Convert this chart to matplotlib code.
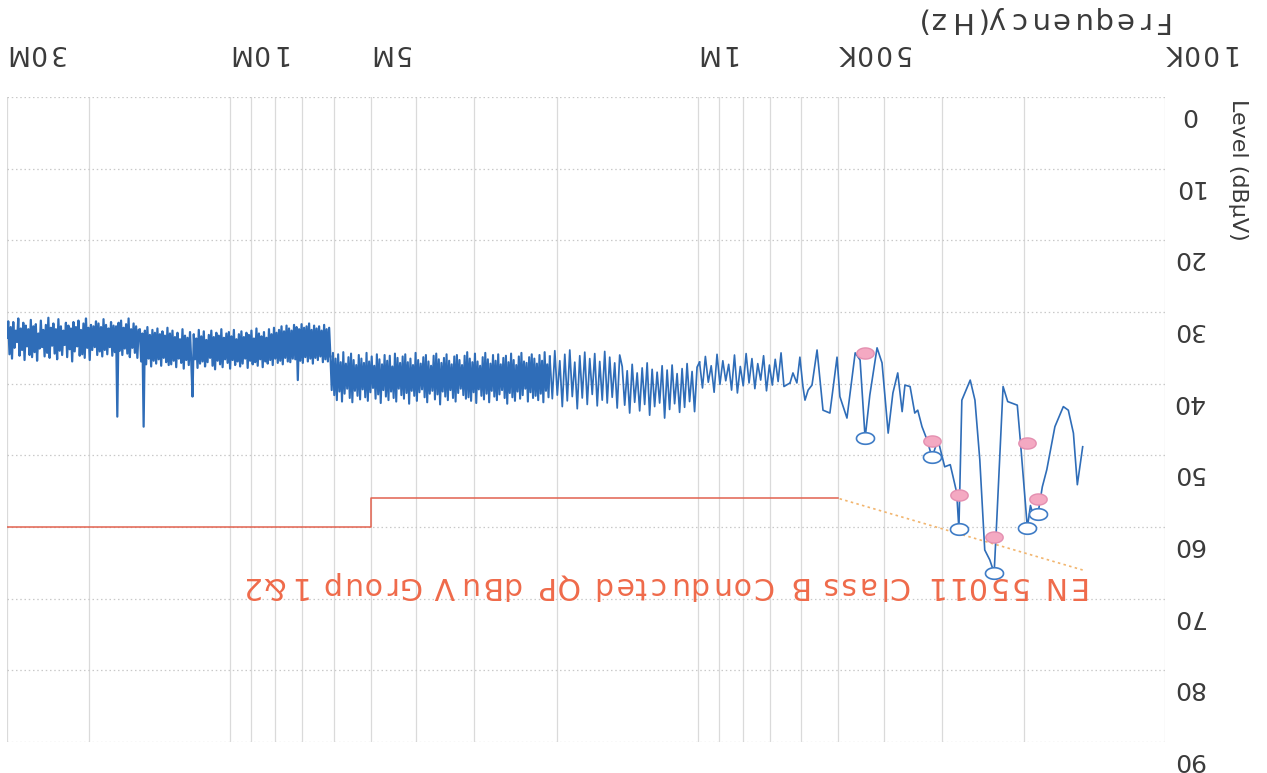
import numpy as np
import matplotlib
matplotlib.use("Agg")
import matplotlib.pyplot as plt
from matplotlib.path import Path
from matplotlib.transforms import offset_copy
from matplotlib.ticker import FixedLocator, NullLocator
from matplotlib.font_manager import FontProperties, findfont, get_font

# ---------------------------------------------------------------- data
# Peak scan, stored per frequency band as levels in dBuV
scan_30m_6m = """
33.6 31.3 35.9 32.1 36.5 31.4 35.0 32.6 34.2 30.9 36.1 32.3 35.3 31.5 36.7 31.9
34.8 32.4 36.0 31.1 36.3 32.0 35.6 31.7 36.8 33.0 35.1 31.2 34.9 32.5 36.2 31.8
35.7 30.8 36.4 32.2 34.7 31.6 35.8 32.4 36.6 31.0 35.4 32.0 36.0 32.6 34.6 31.5
36.3 31.9 35.2 32.3 36.9 31.4 35.5 32.1 34.8 31.2 36.1 32.5 35.9 31.6 36.4 30.9
35.0 32.2 36.7 31.8 35.3 32.0 34.9 31.3
36.0 31.6 35.5 32.1 36.2 31.0 35.3 31.8 35.9 32.3 34.9 31.4 36.1 31.9 35.6 32.0
44.6 31.5 35.4 31.2 36.0 32.2 35.1 31.7 35.8 30.9 36.3 32.4 35.0 31.6 35.7 32.0
36.4 32.5
32.4 36.9 33.0 46.0 32.6 37.3 32.1 36.5 33.2 37.6 32.5 36.8 32.9 37.2 32.3 36.6
33.1 37.5 32.7 36.4 33.3 37.0 32.2 37.4
33.0 37.3 32.6 36.8 33.5 37.7 32.9 36.5 33.8 37.1 32.4 37.9 33.3 36.7 33.6 37.4
32.8 37.0 41.8 33.1 36.6 33.7 37.8 32.5 37.2 33.4 36.9 32.7 37.6 33.9 37.0 33.2
36.4 32.6 37.5 33.5 38.0 32.9 36.8 33.3 37.3 32.4 37.7 33.6 36.6 33.0 37.1 32.8
37.9 33.4 36.7 32.5 37.4 33.8 36.9 33.1 37.6 32.7 37.2 33.5 36.5 32.9 37.8 33.2
36.8 32.6 37.3 33.7 37.0 32.3 37.5 33.0 36.6 33.4 37.7 32.8 36.9 33.6 37.2 32.4
36.7 33.1 37.4 32.2 36.5 32.9 37.1 32.5 36.8 32.0 37.3 32.7 36.4 31.9 36.9 32.3
37.0 32.6 36.5 31.8 36.6 32.1 39.5 32.4 36.8 31.7 37.1 32.2 36.3 32.0 36.9 31.6
36.5 32.5 37.2 31.9 36.4 32.3 36.7 32.0 36.2 32.6 37.0 31.8 36.6 32.4 36.9 32.2
"""
scan_6m_2m = """
36.2 40.9 35.7 41.6 36.5 42.3 35.9 41.1 37.0 42.5 35.6 41.4 37.2 40.7 36.3 42.0
35.8 42.6 36.7 41.0 37.4 41.7 36.0 42.2 36.5 40.8 37.1 41.9 35.7 42.4 36.9 41.2
36.2 40.6 37.5 42.1 35.9 41.5 36.6 42.7 37.3 40.9 36.0 41.8 36.8 42.3 36.1 41.1
37.6 42.0 35.8 42.5 36.4 40.7 37.1 41.6 36.2 42.1 35.9 41.3 37.0 42.8 36.5 41.0
37.4 41.7 35.7 42.4 36.7 41.2 37.2 40.8 36.3 41.9 36.0 42.6 36.9 41.4 37.5 41.0
36.1 42.2 35.8 41.5 36.6 42.9 37.1 41.1 36.4 41.8 35.9 42.3 36.8 40.9 37.3 42.0
36.2 42.5 36.0 41.3 36.7 40.7 37.4 41.6 36.1 42.1 35.6 41.9 36.5 42.4 37.0 41.2
35.8 42.7 36.9 40.8 37.5 41.7 36.3 42.2 35.7 41.4 36.6 42.6 37.2 41.0 36.0 41.8
36.8 42.3 35.9 41.5 37.3 40.9 36.4 42.0 36.1 42.8 37.0 41.3 35.8 41.9 36.7 42.4
37.4 41.1 36.2 42.1 35.7 41.6 36.9 40.7 37.1 42.5 36.3 41.2 35.9 42.0 36.5 41.7
37.2 42.3 36.0 41.4 36.8 42.6 35.6 41.0 37.3 41.9
"""
scan_2m_1m = """
36.2 42.1 35.4 41.6 36.8 43.2 35.9 42.4 35.3 41.8 37.0 43.5 36.1 42.0 35.6 42.9
36.5 41.5 35.8 43.1 36.9 42.3 35.5 42.7 36.3 41.9 37.1 43.4 36.0
37.6 43.0 38.2 44.1 37.3 42.6 38.5 43.8 37.8 42.9 37.1 44.4 38.0 43.2 38.4 42.7
37.5 44.8 38.1 43.6 37.4 42.8 38.6 44.0 37.9 43.3 37.2 42.5 38.3 43.9 37.7
"""
scan_1m_640k = """
37.0 40.6 36.2 39.8 37.5 41.2 35.9 40.1 36.8 39.6 37.3 40.9 36.0 41.3 37.6 40.3
35.8 39.9 36.5 40.7 37.2 39.5 36.1 41.0 37.4 40.2 36.6 39.7 35.7 40.4
"""
# (start Hz, stop Hz, levels, drawn line width)
dense_bands = [
    (30.0e6, 6.1e6, scan_30m_6m, 1.6),
    (6.1e6, 2.07e6, scan_6m_2m, 1.5),
    (2.07e6, 0.99e6, scan_2m_1m, 1.25),
    (0.99e6, 0.644e6, scan_1m_640k, 1.2),
]

# Below 640 kHz the trace is resolved point by point (kHz, dBuV)
low_freq_khz = [634, 625, 613, 604, 595, 589, 580, 569, 555, 539, 521, 503, 496,
                479, 460, 449, 438, 428, 413, 403, 391, 382, 373, 365, 360, 351,
                343, 338, 331, 323, 315, 306, 296, 288, 284, 279, 276, 272, 261,
                255, 249, 243, 237, 232, 229, 222, 217, 207, 204, 197, 194, 191,
                187, 183, 179, 172, 165, 161, 157, 154, 150]
low_freq_level = [39.9, 38.5, 39.9, 36.3, 40.4, 42.3, 40.9, 40.2, 35.3, 43.7, 44.1,
                  36.3, 41.8, 44.8, 35.7, 36.7, 47.6, 41.6, 35.0, 37.1, 46.9, 41.3,
                  38.5, 43.9, 40.2, 40.4, 44.1, 43.7, 46.0, 47.8, 50.3, 47.8, 51.6,
                  51.3, 53.0, 55.2, 60.3, 42.3, 39.5, 42.3, 50.6, 63.2, 64.6, 66.4,
                  59.0, 40.4, 42.5, 43.0, 47.8, 60.1, 57.0, 58.5, 58.2, 54.4, 52.0,
                  46.0, 43.2, 43.7, 46.9, 54.1, 48.8]

# Final measurement points
final_khz = [438, 315, 276, 232, 197, 187]
final_qp = [47.6, 50.3, 60.3, 66.4, 60.1, 58.2]
final_av = [35.7, 48.0, 55.5, 61.4, 48.3, 56.1]

# EN 55011 Class B limit
limit_flat_hz = [500e3, 5e6, 5e6, 30e6]
limit_flat_db = [56, 56, 60, 60]
limit_slope_hz = [150e3, 500e3]
limit_slope_db = [66, 56]
limit_name = "EN 55011 Class B Conducted QP dBuV Group 1&2"

grid_hz = [m * 10.0 ** e for e in (5, 6) for m in range(1, 10)] + [1e7, 2e7, 3e7]
freq_ticks = [100e3, 500e3, 1e6, 5e6, 10e6, 30e6]
freq_tick_labels = ["100K", "500K", "1M", "5M", "10M", "30M"]
level_ticks = list(range(0, 91, 10))

# ---------------------------------------------------------------- style
W, H = 1267, 773
DPI = 100
trace_color = "#2f6db8"
limit_color = "#e2624f"
slope_color = "#f2b56e"
label_color = "#ef6a4a"
text_color = "#3a3a3a"
FAMILY = "DejaVu Sans"

fig = plt.figure(figsize=(W / DPI, H / DPI), dpi=DPI)
fig.patch.set_facecolor("white")
x0, x1, y0, y1 = 7, 1165, 97, 742
ax = fig.add_axes([x0 / W, 1 - y1 / H, (x1 - x0) / W, (y1 - y0) / H])
ax.set_xscale("log")
ax.set_xlim(30e6, 100e3)          # frequency increases to the left
ax.set_ylim(90, 0)                # level increases downward
for s in ax.spines.values():
    s.set_visible(False)
ax.xaxis.set_major_locator(FixedLocator(grid_hz))
ax.xaxis.set_minor_locator(NullLocator())
ax.yaxis.set_major_locator(FixedLocator(level_ticks))
ax.yaxis.set_minor_locator(NullLocator())
ax.tick_params(which="both", length=0, labelleft=False, labelbottom=False)
ax.grid(axis="x", color="#dadada", lw=0.9, ls="-")
ax.grid(axis="y", color="#c9c9c9", lw=0.9, ls=(0, (1.2, 2.2)))
ax.set_axisbelow(True)

# limit line
ax.plot(limit_flat_hz, limit_flat_db, color=limit_color, lw=1.1, zorder=2)
ax.plot(limit_slope_hz, limit_slope_db, color=slope_color, lw=1.2,
        ls=(0, (1.5, 2.0)), zorder=2)

# scan trace: each band joins the first point of the next one
pieces = []
for f_start, f_stop, txt, lw in dense_bands:
    vals = np.array(txt.split(), dtype=float)
    pieces.append((np.geomspace(f_start, f_stop, len(vals), endpoint=False), vals, lw))
pieces.append((np.array(low_freq_khz) * 1e3, np.array(low_freq_level), 1.2))
for i, (fr, lv, lw) in enumerate(pieces):
    if i + 1 < len(pieces):
        fr = np.append(fr, pieces[i + 1][0][0])
        lv = np.append(lv, pieces[i + 1][1][0])
    ax.plot(fr, lv, color=trace_color, lw=lw, zorder=3)

# elliptical markers
t = np.linspace(0, 2 * np.pi, 61)
ellipse = Path(np.column_stack([np.cos(t), 0.64 * np.sin(t)]))
fk = np.array(final_khz) * 1e3
ax.plot(fk, final_qp, ls="none", marker=ellipse, ms=13, mfc="white",
        mec="#3f7cc6", mew=1.2, zorder=4)
ax.plot(fk, final_av, ls="none", marker=ellipse, ms=12.5, mfc="#f4a9c2",
        mec="#e48fb0", mew=1.0, zorder=5)


# ---------------------------------------------------------------- text
def char_advances(s, size):
    font = get_font(findfont(FontProperties(family=FAMILY)))
    font.set_size(size, DPI)
    return [font.load_char(ord(c)).linearHoriAdvance / 65536 for c in s]


def flipped_text(x_px, base_px, s, size, track, color, align="right"):
    """Upside-down text with a little extra letter spacing.
    x_px: screen x of the given edge; base_px: baseline row (from top)."""
    adv = char_advances(s, size)
    total = sum(adv) + track * (len(s) - 1)
    start = x_px if align == "right" else x_px + total
    pos = 0.0
    for c, a in zip(s, adv):
        if c != " ":
            fig.text((start - pos) / W, 1 - base_px / H, c, rotation=180,
                     rotation_mode="anchor", ha="left", va="baseline",
                     fontsize=size, color=color, family=FAMILY)
        pos += a + track


# limit name below the start of the sloped limit
lx, ly = ax.transData.transform((limit_slope_hz[0], limit_slope_db[0]))
flipped_text(lx + 2, (H - ly) + 7, limit_name, 21.5, 2.3, label_color)

# frequency labels (along the top edge)
for f, lab in zip(freq_ticks, freq_tick_labels):
    gx = ax.transData.transform((f, 0))[0]
    flipped_text(gx - 3, 45, lab, 19, 2.0, text_color, align="left")

flipped_text(1168, 12, "Frequency(Hz)", 21, 3.3, text_color)

# level labels (along the right edge)
yt = offset_copy(ax.get_yaxis_transform(), fig=fig, x=23, y=-18, units="dots")
for v in level_ticks:
    ax.text(1.0, v, str(v), transform=yt, ha="center", va="center",
            rotation=180, fontsize=18, color=text_color, family=FAMILY)

fig.text(1238 / W, 1 - 99 / H, "Level (dBμV)", ha="center", va="top",
         rotation=270, fontsize=16, color=text_color, family=FAMILY)

fig.savefig("out.png", dpi=DPI, facecolor="white")
